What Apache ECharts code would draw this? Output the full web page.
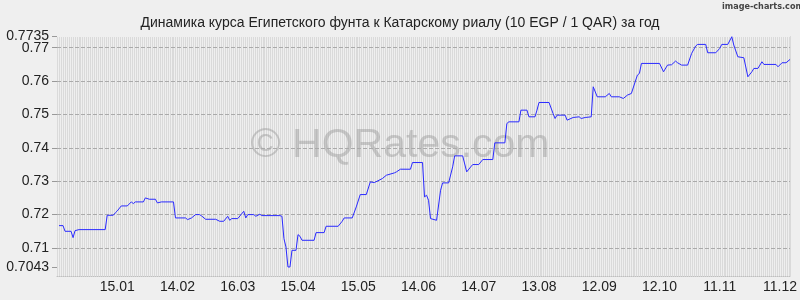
<!DOCTYPE html>
<html>
<head>
<meta charset="utf-8">
<script src="https://cdn.jsdelivr.net/npm/echarts@6/dist/echarts.min.js"></script>
<style>
html,body{margin:0;padding:0;background:#efefef;}
#c{width:800px;height:300px;}
</style>
</head>
<body>
<div id="c"></div>
<script>
// Day index 0 = 16.12.2024
const startDate = [2024, 11, 16];
const days = [1,3,4,7,8,9,11,24,25,28,29,30,32,35,37,38,39,43,44,46,49,50,52,58,59,64,65,67,69,71,72,74,79,81,83,85,86,87,90,93,94,95,98,99,101,102,111,112,113,114,115,116,117,119,120,121,122,128,129,133,134,140,142,143,147,149,151,154,156,158,162,164,168,169,171,176,177,182,183,184,185,186,189,191,192,195,197,198,202,204,206,207,210,212,217,218,223,224,225,230,231,234,235,238,239,240,245,247,248,249,253,254,257,260,261,263,266,267,269,273,275,276,280,282,284,286,288,289,290,291,300,302,304,306,308,309,311,314,316,318,319,323,324,328,330,331,334,336,337,339,342,344,346,347,349,351,352,358,359,361,363,365];
const rates = [0.7167,0.7167,0.7150,0.7150,0.7131,0.7152,0.7155,0.7155,0.7198,0.7198,0.7205,0.7211,0.7226,0.7226,0.7238,0.7233,0.7238,0.7238,0.7250,0.7246,0.7246,0.7235,0.7238,0.7238,0.7190,0.7190,0.7185,0.7190,0.7200,0.7200,0.7196,0.7186,0.7186,0.7180,0.7180,0.7195,0.7183,0.7188,0.7188,0.7210,0.7190,0.7200,0.7200,0.7195,0.7201,0.7197,0.7197,0.7195,0.7128,0.7103,0.7043,0.7043,0.7093,0.7093,0.7140,0.7135,0.7123,0.7123,0.7146,0.7146,0.7165,0.7165,0.7180,0.7190,0.7190,0.7223,0.7260,0.7260,0.7298,0.7296,0.7308,0.7318,0.7325,0.7328,0.7336,0.7336,0.7356,0.7356,0.7253,0.7258,0.7243,0.7188,0.7183,0.7273,0.7295,0.7295,0.7343,0.7376,0.7376,0.7328,0.7343,0.7350,0.7350,0.7365,0.7365,0.7415,0.7415,0.7473,0.7478,0.7478,0.7513,0.7513,0.7493,0.7493,0.7513,0.7536,0.7536,0.7503,0.7488,0.7498,0.7498,0.7483,0.7491,0.7493,0.7488,0.7491,0.7493,0.7583,0.7553,0.7553,0.7563,0.7553,0.7553,0.7548,0.7558,0.7563,0.7600,0.7618,0.7623,0.7653,0.7653,0.7628,0.7648,0.7649,0.7660,0.7655,0.7648,0.7648,0.7683,0.7705,0.7710,0.7710,0.7685,0.7685,0.7698,0.7710,0.7710,0.7733,0.7708,0.7673,0.7670,0.7613,0.7628,0.7638,0.7638,0.7658,0.7650,0.7650,0.7643,0.7655,0.7655,0.7665];
const yTicks = [0.7043,0.71,0.72,0.73,0.74,0.75,0.76,0.77];
const yTopTick = [0.7735];
const yMin = 0.7016, yMax = 0.77352;
const dayMax = 365, labelStep = 30;
const titleText = 'Динамика курса Египетского фунта к Катарскому риалу (10 EGP / 1 QAR) за год';

function dayLabel(d){
  const dt = new Date(startDate[0], startDate[1], startDate[2] + d);
  const dd = String(dt.getDate()).padStart(2,'0');
  const mm = String(dt.getMonth()+1).padStart(2,'0');
  return dd + '.' + mm;
}

const chart = echarts.init(document.getElementById('c'), null, {renderer:'canvas'});
const font = 'Liberation Sans, Arial, sans-serif';
const labelStyle = {fontFamily:font,fontSize:14,color:'#222'};
chart.setOption({
  animation:false,
  backgroundColor:'#efefef',
  title:{text:titleText,left:'center',top:11,textStyle:{fontFamily:font,fontSize:14,fontWeight:'normal',color:'#222'}},
  graphic:[
    {type:'text',left:722,top:2,z:100,style:{text:'image-charts.com',fontFamily:'DejaVu Sans Condensed',fontWeight:'bold',fontSize:9,fill:'#444'}},
    {type:'text',x:400,y:146,z:3,style:{text:'© HQRates.com',fontFamily:font,fontSize:41,fill:'rgba(140,140,140,0.4)',align:'center',verticalAlign:'middle'}}
  ],
  grid:{left:57,right:2,top:36,bottom:24,containLabel:false},
  xAxis:[
    {type:'value',min:0,max:dayMax,interval:labelStep,
     axisLine:{show:true,lineStyle:{color:'#c0c0c0',type:'dotted'}},
     axisTick:{show:false},splitLine:{show:false},
     axisLabel:Object.assign({showMinLabel:false,showMaxLabel:false,margin:4,formatter:v=>dayLabel(v)},labelStyle)},
    {type:'value',min:0,max:370.5,interval:1,show:true,z:0,
     axisLine:{show:false},axisTick:{show:false},axisLabel:{show:false},
     splitLine:{show:true,lineStyle:{color:'#dadada',width:1}}}
  ],
  yAxis:[
    {type:'value',min:yMin,max:yMax,position:'left',
     axisLine:{show:false},
     axisTick:{show:true,length:5,customValues:yTicks,lineStyle:{color:'#999'}},
     splitLine:{show:false},
     axisLabel:Object.assign({customValues:yTicks,margin:8,formatter:v=>String(v)},labelStyle)},
    {type:'value',min:yMin,max:yMax,interval:0.001,z:1,position:'left',
     axisLine:{show:false},
     axisTick:{show:true,length:5,customValues:yTopTick,lineStyle:{color:'#999'}},
     axisLabel:Object.assign({show:true,customValues:yTopTick,showMaxLabel:true,margin:8,formatter:v=>String(v)},labelStyle),
     splitLine:{show:true,lineStyle:{color:'#efefef',width:1.2}}}
  ],
  series:[{
    type:'line',xAxisIndex:0,yAxisIndex:0,
    data:days.map((d,i)=>[d,rates[i]]),
    showSymbol:false,symbol:'none',
    lineStyle:{color:'#2a2aff',width:1},
    z:5,
    markLine:{silent:true,symbol:'none',label:{show:false},
      lineStyle:{color:'#aaaaaa',type:[4,2],width:1},
      data:yTicks.concat(yTopTick).map(v=>({yAxis:v}))}
  }]
});
</script>
</body>
</html>
